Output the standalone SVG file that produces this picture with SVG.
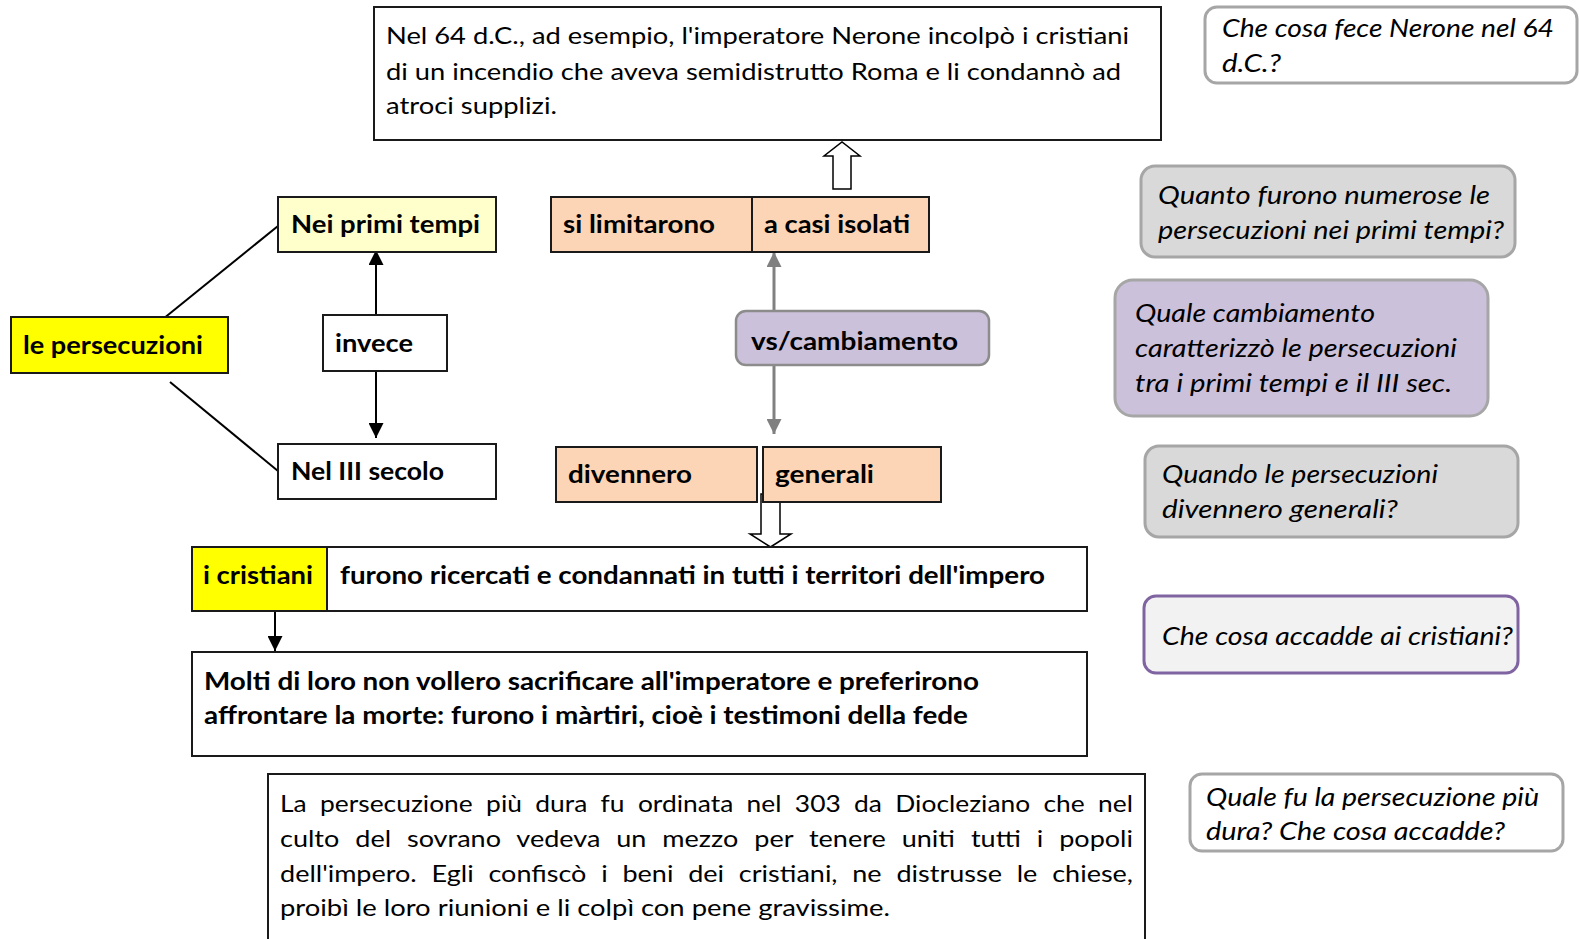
<svg xmlns="http://www.w3.org/2000/svg" width="1579" height="939" viewBox="0 0 1579 939">
  <defs>
    <marker id="ahBlack" viewBox="0 0 10 10" refX="10" refY="5" markerWidth="7.5" markerHeight="7.5" orient="auto" markerUnits="strokeWidth">
      <path d="M0,0 L10,5 L0,10 Z" fill="#000"/>
    </marker>
    <marker id="ahGray" viewBox="0 0 10 10" refX="10" refY="5" markerWidth="5" markerHeight="5" orient="auto" markerUnits="strokeWidth">
      <path d="M0,0 L10,5 L0,10 Z" fill="#808080"/>
    </marker>
    <style>
      .box { stroke: #1a1a1a; stroke-width: 2; }
      .plain { fill: #ffffff; }
      .yellow { fill: #ffff00; }
      .pale { fill: #ffffcc; }
      .peach { fill: #fbd5b5; }
      .lilac { fill: #ccc1da; }
      .q { stroke: #a6a6a6; stroke-width: 3; }
      .t { font-family: Lato, "Open Sans", "Liberation Sans", sans-serif; font-size: 24px; fill: #000; }
      .b { font-weight: bold; }
      .i { font-style: italic; font-size: 25px; }
      .link { stroke: #000; stroke-width: 2; fill: none; }
      .glink { stroke: #808080; stroke-width: 3; fill: none; }
      .hollow { fill: #fff; stroke: #000; stroke-width: 1.5; }
    </style>
  </defs>

  <rect width="1579" height="939" fill="#fff"/>

  <!-- connectors -->
  <g id="connectors">
    <line class="link" x1="163" y1="319" x2="278" y2="226"/>
    <line class="link" x1="170" y1="382" x2="278" y2="471"/>
    <line class="link" x1="376" y1="315" x2="376" y2="250" marker-end="url(#ahBlack)"/>
    <line class="link" x1="376" y1="371" x2="376" y2="438" marker-end="url(#ahBlack)"/>
    <line class="glink" x1="774" y1="311" x2="774" y2="252" marker-end="url(#ahGray)"/>
    <line class="glink" x1="774" y1="365" x2="774" y2="434" marker-end="url(#ahGray)"/>
    <line class="link" x1="275" y1="611" x2="275" y2="651" marker-end="url(#ahBlack)"/>
    <!-- block arrows -->
    <path class="hollow" d="M833,189 L833,156 L824,156 L842,142 L860,156 L851,156 L851,189 Z"/>
    <path class="hollow" d="M761,494 L780,494 L780,534 L791,534 L770.5,547 L750,534 L761,534 Z"/>
  </g>

  <g id="nerone-text">
    <rect class="box plain" x="374" y="7" width="787" height="133"/>
    <text class="t" x="386" y="44" textLength="743" lengthAdjust="spacingAndGlyphs">Nel 64 d.C., ad esempio, l'imperatore Nerone incolpò i cristiani</text>
    <text class="t" x="386" y="80" textLength="735" lengthAdjust="spacingAndGlyphs">di un incendio che aveva semidistrutto Roma e li condannò ad</text>
    <text class="t" x="386" y="114" textLength="171" lengthAdjust="spacingAndGlyphs">atroci supplizi.</text>
  </g>

  <g id="le-persecuzioni">
    <rect class="box yellow" x="11" y="317" width="217" height="56"/>
    <text class="t b" x="23" y="354" textLength="180" lengthAdjust="spacingAndGlyphs">le persecuzioni</text>
  </g>

  <g id="nei-primi-tempi">
    <rect class="box pale" x="278" y="197" width="218" height="55"/>
    <text class="t b" x="291" y="233" textLength="189" lengthAdjust="spacingAndGlyphs">Nei primi tempi</text>
  </g>

  <g id="invece">
    <rect class="box plain" x="323" y="315" width="124" height="56"/>
    <text class="t b" x="335" y="352" textLength="78" lengthAdjust="spacingAndGlyphs">invece</text>
  </g>

  <g id="nel-iii-secolo">
    <rect class="box plain" x="278" y="444" width="218" height="55"/>
    <text class="t b" x="291" y="480" textLength="153" lengthAdjust="spacingAndGlyphs">Nel III secolo</text>
  </g>

  <g id="si-limitarono">
    <rect class="box peach" x="551" y="197" width="201" height="55"/>
    <text class="t b" x="563" y="233" textLength="152" lengthAdjust="spacingAndGlyphs">si limitarono</text>
  </g>

  <g id="a-casi-isolati">
    <rect class="box peach" x="752" y="197" width="177" height="55"/>
    <text class="t b" x="764" y="233" textLength="146" lengthAdjust="spacingAndGlyphs">a casi isolati</text>
  </g>

  <g id="vs-cambiamento">
    <rect class="lilac" x="736" y="311" width="253" height="54" rx="10" stroke="#8c8c8c" stroke-width="2.5"/>
    <text class="t b" x="751" y="350" textLength="207" lengthAdjust="spacingAndGlyphs">vs/cambiamento</text>
  </g>

  <g id="divennero">
    <rect class="box peach" x="556" y="447" width="201" height="55"/>
    <text class="t b" x="568" y="483" textLength="124" lengthAdjust="spacingAndGlyphs">divennero</text>
  </g>

  <g id="generali">
    <rect class="box peach" x="763" y="447" width="178" height="55"/>
    <text class="t b" x="775" y="483" textLength="99" lengthAdjust="spacingAndGlyphs">generali</text>
  </g>

  <g id="i-cristiani">
    <rect class="box yellow" x="192" y="547" width="135" height="64"/>
    <text class="t b" x="203" y="584" textLength="110" lengthAdjust="spacingAndGlyphs">i cristiani</text>
  </g>

  <g id="ricercati">
    <rect class="box plain" x="327" y="547" width="760" height="64"/>
    <text class="t b" x="340" y="584" textLength="705" lengthAdjust="spacingAndGlyphs">furono ricercati e condannati in tutti i territori dell'impero</text>
  </g>

  <g id="martiri">
    <rect class="box plain" x="192" y="652" width="895" height="104"/>
    <text class="t b" x="204" y="690" textLength="775" lengthAdjust="spacingAndGlyphs">Molti di loro non vollero sacrificare all'imperatore e preferirono</text>
    <text class="t b" x="204" y="724" textLength="764" lengthAdjust="spacingAndGlyphs">affrontare la morte: furono i màrtiri, cioè i testimoni della fede</text>
  </g>

  <!-- justified paragraph: widened word gaps, exact line length -->
  <g id="diocleziano">
    <rect class="box plain" x="268" y="774" width="877" height="180"/>
    <text class="t" x="280" y="812" word-spacing="6" textLength="853" lengthAdjust="spacingAndGlyphs">La persecuzione più dura fu ordinata nel 303 da Diocleziano che nel</text>
    <text class="t" x="280" y="847" word-spacing="8" textLength="853" lengthAdjust="spacingAndGlyphs">culto del sovrano vedeva un mezzo per tenere uniti tutti i popoli</text>
    <text class="t" x="280" y="882" word-spacing="7" textLength="853" lengthAdjust="spacingAndGlyphs">dell'impero. Egli confiscò i beni dei cristiani, ne distrusse le chiese,</text>
    <text class="t" x="280" y="916" textLength="610" lengthAdjust="spacingAndGlyphs">proibì le loro riunioni e li colpì con pene gravissime.</text>
  </g>

  <!-- question bubbles -->
  <g id="q-nerone">
    <rect class="q plain" x="1205" y="7" width="372" height="76" rx="12"/>
    <text class="t i" x="1222" y="37" textLength="332" lengthAdjust="spacingAndGlyphs">Che cosa fece Nerone nel 64</text>
    <text class="t i" x="1222" y="72" textLength="59" lengthAdjust="spacingAndGlyphs">d.C.?</text>
  </g>

  <g id="q-numerose">
    <rect class="q" fill="#d9d9d9" x="1141" y="166" width="374" height="91" rx="14"/>
    <text class="t i" x="1158" y="204" textLength="332" lengthAdjust="spacingAndGlyphs">Quanto furono numerose  le</text>
    <text class="t i" x="1158" y="239" textLength="346" lengthAdjust="spacingAndGlyphs">persecuzioni nei primi tempi?</text>
  </g>

  <g id="q-cambiamento">
    <rect class="q lilac" x="1115" y="280" width="373" height="136" rx="18"/>
    <text class="t i" x="1135" y="322" textLength="240" lengthAdjust="spacingAndGlyphs">Quale cambiamento</text>
    <text class="t i" x="1135" y="357" textLength="322" lengthAdjust="spacingAndGlyphs">caratterizzò le persecuzioni</text>
    <text class="t i" x="1135" y="392" textLength="317" lengthAdjust="spacingAndGlyphs">tra i primi tempi e il III  sec.</text>
  </g>

  <g id="q-generali">
    <rect class="q" fill="#d9d9d9" x="1145" y="446" width="373" height="91" rx="14"/>
    <text class="t i" x="1162" y="483" textLength="276" lengthAdjust="spacingAndGlyphs">Quando le persecuzioni</text>
    <text class="t i" x="1162" y="518" textLength="236" lengthAdjust="spacingAndGlyphs">divennero generali?</text>
  </g>

  <g id="q-cristiani">
    <rect fill="#f2f2f2" stroke="#8064a2" stroke-width="3" x="1144" y="596" width="374" height="77" rx="12"/>
    <text class="t i" x="1162" y="645" textLength="351" lengthAdjust="spacingAndGlyphs">Che cosa accadde ai cristiani?</text>
  </g>

  <g id="q-dura">
    <rect class="q plain" x="1190" y="774" width="373" height="77" rx="12"/>
    <text class="t i" x="1206" y="806" textLength="333" lengthAdjust="spacingAndGlyphs">Quale fu la persecuzione più</text>
    <text class="t i" x="1206" y="840" textLength="299" lengthAdjust="spacingAndGlyphs">dura? Che cosa accadde?</text>
  </g>
</svg>
